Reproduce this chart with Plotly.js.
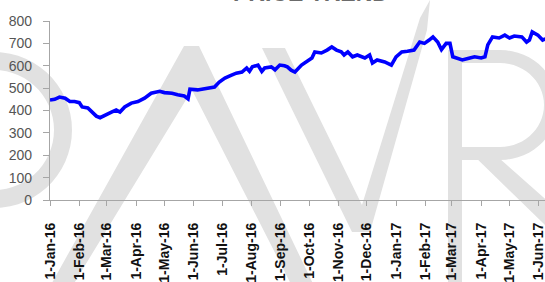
<!DOCTYPE html>
<html>
<head>
<meta charset="utf-8">
<script src="https://cdn.plot.ly/plotly-3.0.1.min.js"></script>
<style>html,body{margin:0;padding:0;background:#fff;}#chart{width:545px;height:282px;}</style>
</head>
<body>
<div id="chart"></div>
<script>
// ---- data ----
const dates = ['2016-01-01','2016-01-06','2016-01-11','2016-01-17','2016-01-22','2016-01-27','2016-02-01','2016-02-04','2016-02-10','2016-02-15',
'2016-02-19','2016-02-23','2016-02-28','2016-03-06','2016-03-11','2016-03-15','2016-03-20','2016-03-27','2016-04-03','2016-04-10',
'2016-04-17','2016-04-26','2016-05-01','2016-05-09','2016-05-15','2016-05-22','2016-05-26','2016-05-28','2016-06-05','2016-06-15',
'2016-06-23','2016-06-28','2016-07-04','2016-07-11','2016-07-16','2016-07-22','2016-07-27','2016-07-30','2016-08-02','2016-08-08',
'2016-08-12','2016-08-15','2016-08-22','2016-08-26','2016-08-31','2016-09-05','2016-09-08','2016-09-12','2016-09-16','2016-09-23',
'2016-09-28','2016-10-04','2016-10-07','2016-10-14','2016-10-20','2016-10-25','2016-10-30','2016-11-04','2016-11-07','2016-11-11',
'2016-11-16','2016-11-21','2016-11-29','2016-12-04','2016-12-07','2016-12-12','2016-12-20','2016-12-27','2017-01-01','2017-01-07',
'2017-01-13','2017-01-20','2017-01-26','2017-01-31','2017-02-05','2017-02-09','2017-02-14','2017-02-18','2017-02-23','2017-02-27',
'2017-03-02','2017-03-07','2017-03-12','2017-03-20','2017-03-25','2017-04-01','2017-04-05','2017-04-08','2017-04-13','2017-04-20',
'2017-04-26','2017-05-01','2017-05-06','2017-05-14','2017-05-19','2017-05-22','2017-05-25','2017-05-31','2017-06-05','2017-06-08'];
const prices = [447,450,460,455,440,440,435,416,411,389,
375,368,380,393,402,393,416,433,440,455,
477,486,480,477,470,465,452,495,492,500,
505,527,545,558,567,572,590,575,595,603,
575,590,595,582,603,600,595,580,572,603,
617,635,662,657,670,684,670,662,648,662,
640,648,635,648,612,626,617,603,640,662,
665,670,706,700,715,729,706,672,700,700,
640,635,626,635,640,635,640,693,729,724,
737,724,733,729,706,715,751,737,715,720];
const yTicks = [0,100,200,300,400,500,600,700,800];
const chartTitle = 'PRICE TREND';

// ---- watermark decoration (pixel outlines converted to paper units) ----
const L = 50, T = 21, W = 495, H = 179;
function P(px, py){ return ((px - L) / W).toFixed(4) + ',' + ((T + H - py) / H).toFixed(4); }
function poly(pts){ return 'M' + pts.map(p => P(p[0], p[1])).join(' L') + ' Z'; }
function arcBand(cx, cy, r1x, r1y, r2x, r2y, a0, a1, pre, post){
  const pts = [], n = 30;
  (pre||[]).forEach(p=>pts.push(p));
  for(let i=0;i<=n;i++){const a=a0+(a1-a0)*i/n; pts.push([cx+r1x*Math.cos(a), cy+r1y*Math.sin(a)]);}
  (post||[]).forEach(p=>pts.push(p));
  for(let i=n;i>=0;i--){const a=a0+(a1-a0)*i/n; pts.push([cx+r2x*Math.cos(a), cy+r2y*Math.sin(a)]);}
  return poly(pts);
}
const wm = '#e1e1e1';
const shapes = [
  {path: arcBand(-6,130,78,78,60,60,-Math.PI/2,Math.PI/2)},
  {path: poly([[48,290],[184,46],[199,46],[316,290],[294,290],[192,90],[70,290]])},
  {path: poly([[262,48],[285,48],[362,205],[420,18],[430,0],[427,30],[370,232],[352,232]])},
  {path: poly([[448,50],[462,50],[462,290],[448,290]])},
  {path: arcBand(500,105,58,55,44,42,-Math.PI/2,Math.PI/2,[[462,50]],[[462,160],[462,147]]).replace('Z','') + ' L' + P(462,63) + ' Z'},
  {path: poly([[468,150],[490,150],[560,212],[548,228]])}
].map(s => Object.assign({type:'path', xref:'paper', yref:'paper', fillcolor: wm, line:{width:0}, layer:'below'}, s));

const trace = {
  x: dates, y: prices, type: 'scatter', mode: 'lines',
  line: {color: '#0000ff', width: 3.6, shape: 'linear'},
  hoverinfo: 'skip'
};

const layout = {
  width: 545, height: 282,
  margin: {l: L, r: 0, t: T, b: 282 - T - H, pad: 0},
  paper_bgcolor: '#ffffff', plot_bgcolor: 'rgba(0,0,0,0)',
  showlegend: false,
  shapes: shapes,
  annotations: [{
    text: chartTitle, xref: 'paper', yref: 'paper',
    x: (311 - L) / W, y: (T + H + 7) / H, xanchor: 'center', yanchor: 'middle',
    showarrow: false, font: {family: 'Liberation Sans, Arial, sans-serif', size: 23, color: '#6b6b6b', weight: 'bold'}
  }],
  xaxis: {
    type: 'date', range: ['2016-01-01', '2017-06-07 12:00'],
    tick0: '2016-01-01', dtick: 'M1', tickformat: '%-d-%b-%y',
    tickangle: -90, ticks: 'outside', ticklen: 5, tickcolor: '#a6a6a6', tickwidth: 1,
    showline: true, linecolor: '#a6a6a6', linewidth: 1.2,
    showgrid: false, zeroline: false, ticklabelstandoff: 11, ticklabeloverflow: 'allow',
    tickfont: {family: 'Liberation Sans, Arial, sans-serif', size: 14, color: '#111111', weight: 'bold'},
    fixedrange: true
  },
  yaxis: {
    range: [0, 800], tickvals: yTicks, ticktext: yTicks.map(String),
    ticks: 'outside', ticklen: 6, tickcolor: '#a6a6a6', tickwidth: 1,
    showline: true, linecolor: '#a6a6a6', linewidth: 1.2,
    showgrid: false, zeroline: false, ticklabelstandoff: 8,
    tickfont: {family: 'Liberation Sans, Arial, sans-serif', size: 14, color: '#555555'},
    fixedrange: true
  }
};

Plotly.newPlot('chart', [trace], layout, {staticPlot: true, displayModeBar: false});
</script>
</body>
</html>
